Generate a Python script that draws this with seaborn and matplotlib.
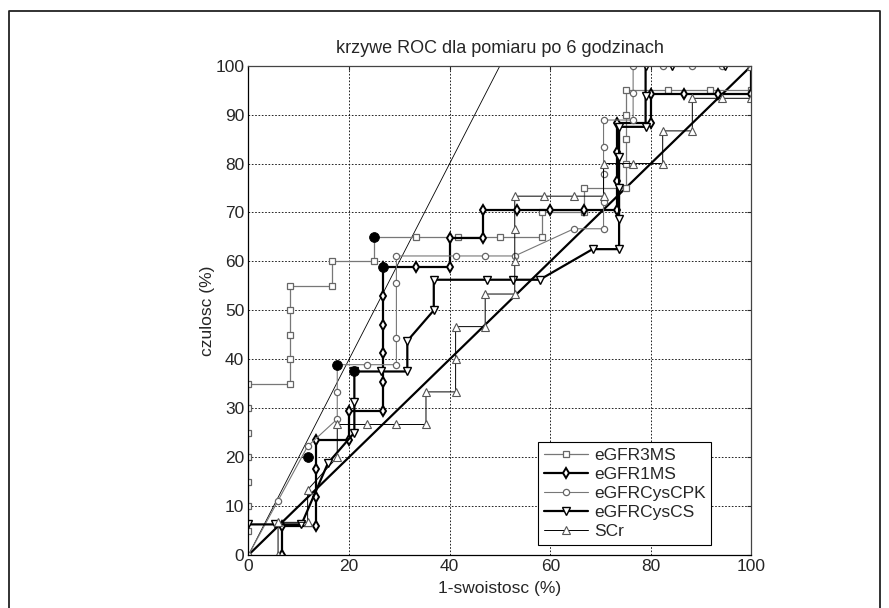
import numpy as np
import pandas as pd
import matplotlib
matplotlib.use("Agg")
import matplotlib.pyplot as plt
import seaborn as sns
from matplotlib.lines import Line2D

# ROC points: x = 1-swoistosc (%), y = czulosc (%)
egfr3ms_x = [0, 0, 0, 0, 0, 0, 0, 8.33, 8.33, 8.33, 8.33, 8.33, 16.67, 16.67, 25, 25,
             33.33, 41.67, 50, 58.33, 58.33, 66.67, 66.67, 75, 75, 75, 75, 75,
             83.33, 91.67, 100, 100]
egfr3ms_y = [5, 10, 15, 20, 25, 30, 35, 35, 40, 45, 50, 55, 55, 60, 60, 65,
             65, 65, 65, 65, 70, 70, 75, 75, 80, 85, 90, 95,
             95, 95, 95, 100]

egfr1ms_x = [6.67, 6.67, 13.33, 13.33, 13.33, 13.33, 20, 20, 26.67, 26.67, 26.67, 26.67,
             26.67, 26.67, 33.33, 40, 40, 46.67, 46.67, 53.33, 60, 66.67, 73.33, 73.33,
             73.33, 73.33, 80, 80, 86.67, 93.33, 100, 100]
egfr1ms_y = [0, 5.88, 5.88, 11.76, 17.65, 23.53, 23.53, 29.41, 29.41, 35.29, 41.18, 47.06,
             52.94, 58.82, 58.82, 58.82, 64.71, 64.71, 70.59, 70.59, 70.59, 70.59, 70.59, 76.47,
             82.35, 88.24, 88.24, 94.12, 94.12, 94.12, 94.12, 100]

cpk_x = [0, 5.88, 11.76, 17.65, 17.65, 17.65, 23.53, 29.41, 29.41, 29.41, 29.41, 41.18,
         47.06, 52.94, 64.71, 70.59, 70.59, 70.59, 70.59, 70.59, 76.47, 76.47, 76.47,
         82.35, 88.24, 94.12, 100]
cpk_y = [0, 11.11, 22.22, 27.78, 33.33, 38.89, 38.89, 38.89, 44.44, 55.56, 61.11, 61.11,
         61.11, 61.11, 66.67, 66.67, 72.22, 77.78, 83.33, 88.89, 88.89, 94.44, 100,
         100, 100, 100, 100]

cs_x = [0, 5.26, 10.53, 15.79, 21.05, 21.05, 21.05, 26.32, 31.58, 31.58, 36.84, 36.84,
        47.37, 52.63, 57.89, 68.42, 73.68, 73.68, 73.68, 73.68, 73.68, 78.95, 78.95,
        78.95, 84.21, 94.74, 100]
cs_y = [6.25, 6.25, 6.25, 18.75, 25, 31.25, 37.5, 37.5, 37.5, 43.75, 50, 56.25,
        56.25, 56.25, 56.25, 62.5, 62.5, 68.75, 75, 81.25, 87.5, 87.5, 93.75,
        100, 100, 100, 100]

scr_x = [5.88, 5.88, 11.76, 11.76, 17.65, 17.65, 23.53, 29.41, 35.29, 35.29, 41.18, 41.18,
         41.18, 47.06, 47.06, 52.94, 52.94, 52.94, 52.94, 58.82, 64.71, 70.59, 70.59,
         76.47, 82.35, 82.35, 88.24, 88.24, 94.12, 100, 100]
scr_y = [0, 6.67, 6.67, 13.33, 20, 26.67, 26.67, 26.67, 26.67, 33.33, 33.33, 40,
         46.67, 46.67, 53.33, 53.33, 60, 66.67, 73.33, 73.33, 73.33, 73.33, 80,
         80, 80, 86.67, 86.67, 93.33, 93.33, 93.33, 100]

# optimal cut-off points (filled dots)
cut_x = [25, 26.67, 17.65, 21.05, 11.76]
cut_y = [65, 58.82, 38.89, 37.5, 20]

diag_x = [0, 100]
diag_y = [0, 100]
steep_x = [0, 50]
steep_y = [0, 100]

sns.set_style("white")
plt.rcParams['font.family'] = ['Liberation Sans', 'DejaVu Sans']

fig = plt.figure(figsize=(8.89, 6.08), dpi=100)
ax = fig.add_axes([0.2795, 0.0872, 0.5658, 0.8048])

series = [
    ("eGFR3MS", egfr3ms_x, egfr3ms_y, dict(color="#777777", linewidth=0.9, marker="s", markersize=4.5,
                                          markerfacecolor="white", markeredgecolor="#666666", markeredgewidth=0.9)),
    ("eGFR1MS", egfr1ms_x, egfr1ms_y, dict(color="black", linewidth=1.6, marker="d", markersize=5,
                                          markerfacecolor="white", markeredgecolor="black", markeredgewidth=1.4)),
    ("eGFRCysCPK", cpk_x, cpk_y, dict(color="#777777", linewidth=0.8, marker="o", markersize=4.5,
                                      markerfacecolor="white", markeredgecolor="#666666", markeredgewidth=0.9)),
    ("eGFRCysCS", cs_x, cs_y, dict(color="black", linewidth=1.6, marker="v", markersize=5.5,
                                   markerfacecolor="white", markeredgecolor="black", markeredgewidth=1.0)),
    ("SCr", scr_x, scr_y, dict(color="black", linewidth=0.7, marker="^", markersize=5.5,
                               markerfacecolor="white", markeredgecolor="#555555", markeredgewidth=0.8)),
]

handles = []
for name, xs, ys, kw in series:
    sns.lineplot(x=xs, y=ys, ax=ax, sort=False, estimator=None, label=name, **kw)
    handles.append(ax.lines[-1])

ax.plot(diag_x, diag_y, color="black", linewidth=1.6, zorder=1)
ax.plot(steep_x, steep_y, color="black", linewidth=0.6, zorder=1)
sns.scatterplot(x=cut_x, y=cut_y, ax=ax, color="black", s=50, edgecolor="black", zorder=5, legend=False)

ax.set_xlim(0, 100)
ax.set_ylim(0, 100)
ax.set_xticks(np.arange(0, 101, 20))
ax.set_yticks(np.arange(0, 101, 10))
ax.grid(True, color="black", linestyle=(0, (2, 2)), linewidth=0.6)
ax.tick_params(direction="in", length=3, top=True, right=True, labelsize=12.5, pad=3)
for side in ["left", "bottom"]:
    ax.spines[side].set_color("black")
for side in ["top", "right"]:
    ax.spines[side].set_color("#444444")
for s in ax.spines.values():
    s.set_linewidth(0.9)

ax.set_title("krzywe ROC dla pomiaru po 6 godzinach", fontsize=13, pad=9)
ax.set_xlabel("1-swoistosc (%)", fontsize=12.5, labelpad=5)
ax.set_ylabel("czulosc (%)", fontsize=12.5, labelpad=0)

leg = ax.legend(handles=handles, labels=[s[0] for s in series], loc="lower left",
                bbox_to_anchor=(0.576, 0.02), fontsize=12.5, frameon=True, fancybox=False,
                handlelength=2.5, handletextpad=0.35, labelspacing=0.22, borderpad=0.35,
                borderaxespad=0)
leg.get_frame().set_edgecolor("black")
leg.get_frame().set_linewidth(0.8)
leg.get_frame().set_alpha(1)

# figure frame
fig.add_artist(Line2D([9 / 889, 9 / 889, 880 / 889, 880 / 889], [0, 1 - 11 / 608, 1 - 11 / 608, 0],
                      transform=fig.transFigure, color="#222222", linewidth=1.3))

fig.savefig("out.png", dpi=100)
